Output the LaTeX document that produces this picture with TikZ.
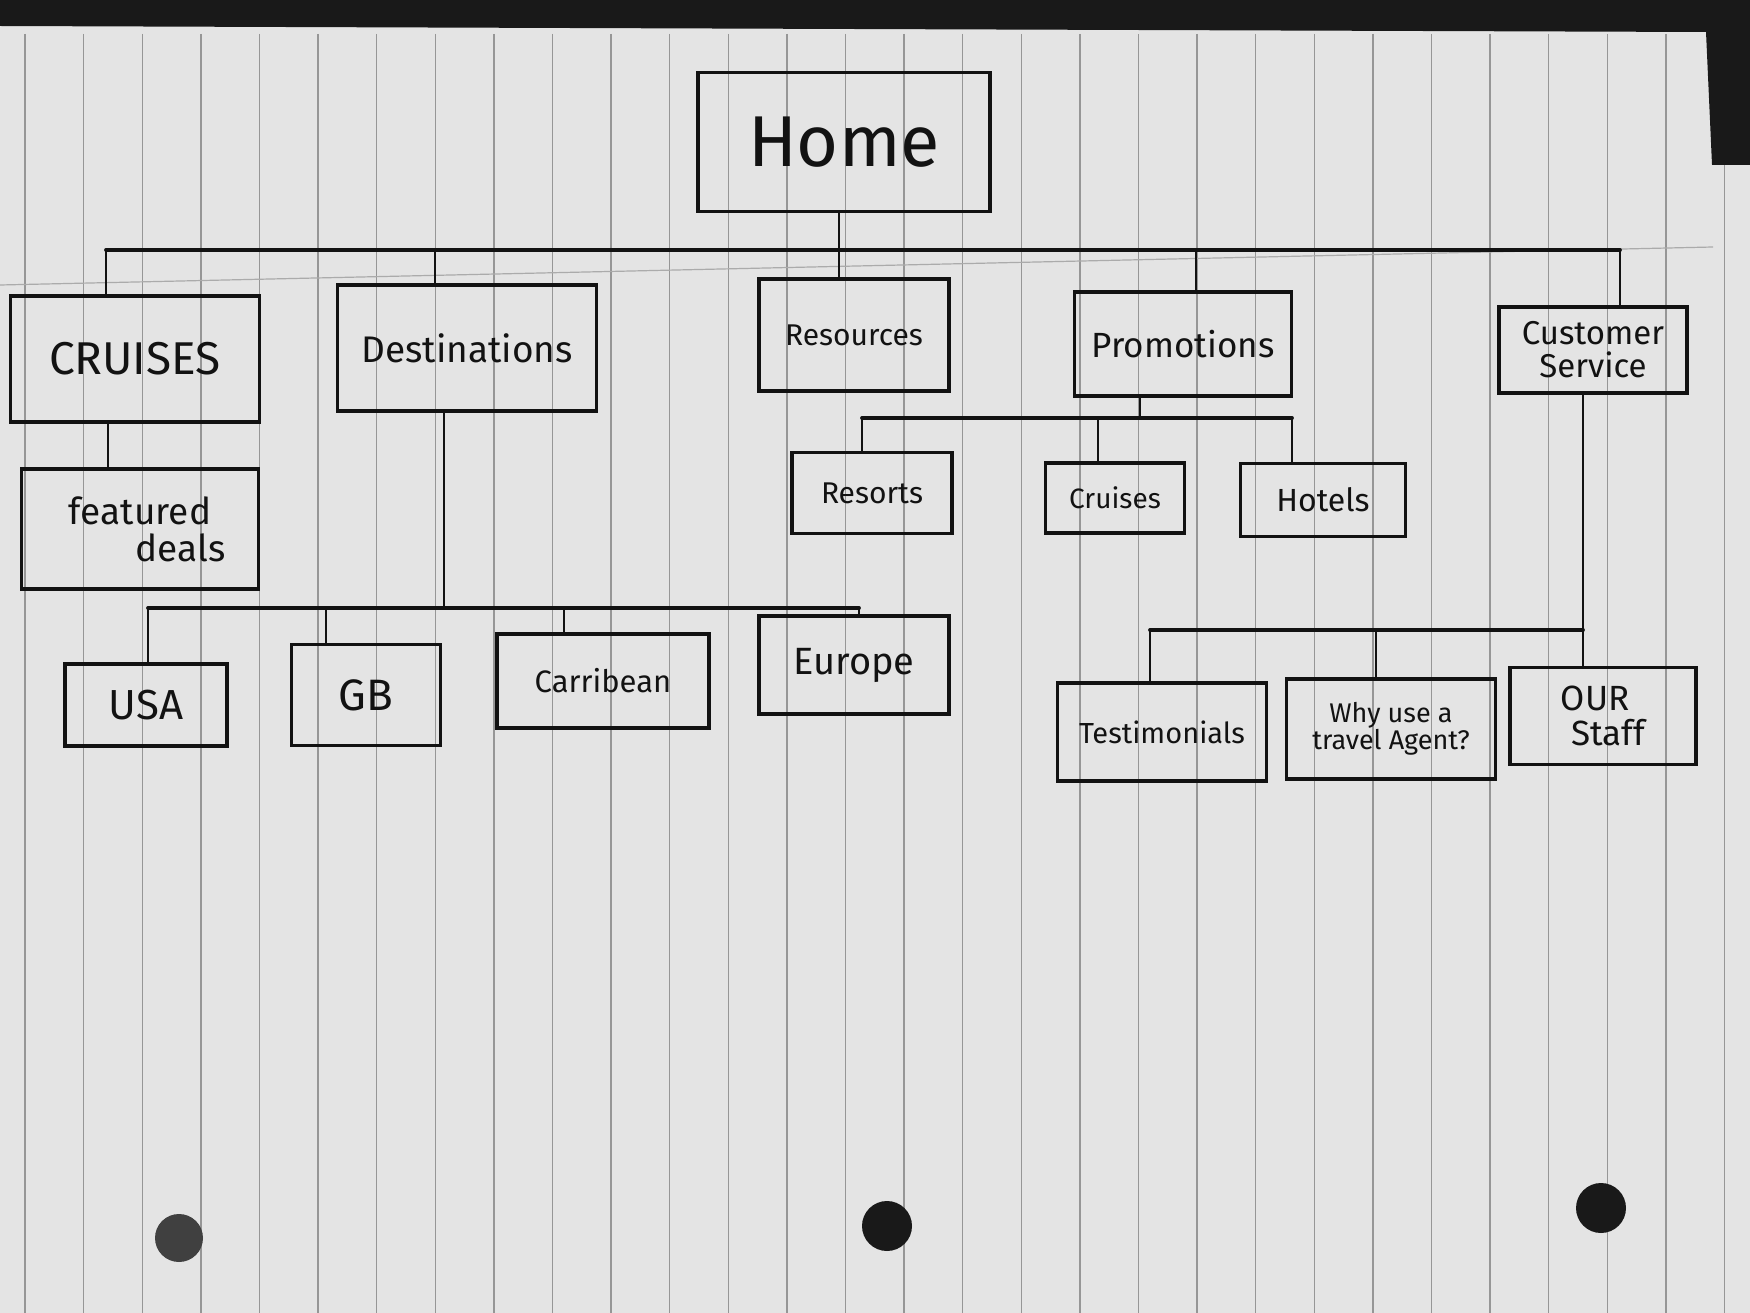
\documentclass[tikz,border=0pt]{standalone}
\usepackage{fontspec}
\setmainfont{Fira Sans}
\definecolor{paper}{RGB}{228,228,228}
\definecolor{rule}{RGB}{150,150,150}
\definecolor{ink}{RGB}{18,18,18}
\newcommand{\fs}[1]{\fontsize{#1}{#1}\selectfont}
\begin{document}
\begin{tikzpicture}[x=1pt,y=-1pt,
  box/.style={draw=ink, line width=3.5pt, inner sep=0pt, align=center, text=ink},
  bus/.style={draw=ink, line width=3.8pt, line cap=round},
  drop/.style={draw=ink, line width=2.6pt, line cap=round},
  ruling/.style={draw=rule, line width=1.4pt},
]
% sheet of lined paper
\useasboundingbox (0,0) rectangle (1750,1313);
\fill[paper] (0,0) rectangle (1750,1313);
\foreach \i in {0,...,29} {
  \draw[ruling] ({25+58.6*\i},34) -- ({25+58.6*\i},1313);
}
\draw[rule!80, line width=1.2pt] (0,285) -- (1713,247);
\fill[black!90] (0,0) -- (1750,0) -- (1750,165) -- (1712,165) -- (1706,32) -- (0,26) -- cycle;
% punched holes
\fill[black!75] (179,1238) circle (24);
\fill[black!90] (887,1226) circle (25);
\fill[black!90] (1601,1208) circle (25);

% page boxes
\node[box, minimum width=292pt, minimum height=139pt, font=\fs{72}] (home) at (844,142) {Home};

\node[box, minimum width=249pt, minimum height=126pt, font=\fs{46}] (cruises) at (135,359) {CRUISES};
\node[box, minimum width=259pt, minimum height=126pt, font=\fs{37}] (dest) at (467,348) {Destinations};
\node[box, minimum width=190pt, minimum height=112pt, font=\fs{30}] (res) at (854,335) {Resources};
\node[box, minimum width=217pt, minimum height=104pt, font=\fs{35}] (promo) at (1183,344) {Promotions};
\node[box, minimum width=188pt, minimum height=86pt, font=\fs{33}] (cs) at (1593,350) {Customer\\Service};

\node[box, minimum width=237pt, minimum height=120pt, font=\fs{37}] (feat) at (140,529) {featured\\\hspace*{2.2em}deals};

\node[box, minimum width=162pt, minimum height=82pt, font=\fs{42}] (usa) at (146,705) {USA};
\node[box, minimum width=149pt, minimum height=101pt, font=\fs{44}] (gb) at (366,695) {GB};
\node[box, minimum width=212pt, minimum height=94pt, font=\fs{31}] (car) at (603,681) {Carribean};
\node[box, minimum width=190pt, minimum height=98pt, font=\fs{38}] (eur) at (854,665) {Europe};

\node[box, minimum width=160pt, minimum height=81pt, font=\fs{30}] (resorts) at (872,493) {Resorts};
\node[box, minimum width=139pt, minimum height=70pt, font=\fs{28}] (pcru) at (1115,498) {Cruises};
\node[box, minimum width=165pt, minimum height=73pt, font=\fs{32}] (hotels) at (1323,500) {Hotels};

\node[box, minimum width=209pt, minimum height=98pt, font=\fs{29}] (test) at (1162,732) {Testimonials};
\node[box, minimum width=209pt, minimum height=100pt, font=\fs{27}] (why) at (1391,729) {Why use a\\travel Agent?};
\node[box, minimum width=186pt, minimum height=97pt, font=\fs{35}, align=left] (staff) at (1603,716) {OUR\\\hspace*{0.3em}Staff};

% first level
\coordinate (b1) at (106,250);
\coordinate (b2) at (435,250);
\coordinate (b3) at (839,250);
\coordinate (b4) at (1196,250);
\coordinate (b5) at (1620,250);
\draw[bus] (b1) -- (b5);
\draw[drop] (cruises.north -| b1) -- (b1);
\draw[drop] (dest.north -| b2) -- (b2);
\draw[drop] (home.south -| b3) -- (res.north -| b3);
\draw[drop] (promo.north -| b4) -- (b4);
\draw[drop] (cs.north -| b5) -- (b5);

% cruises
\coordinate (fx) at (108,0);
\draw[drop] (cruises.south -| fx) -- (feat.north -| fx);

% destinations
\coordinate (d0) at (444,608);
\coordinate (dL) at (148,608);
\coordinate (dG) at (326,608);
\coordinate (dC) at (564,608);
\coordinate (dR) at (859,608);
\draw[drop] (dest.south -| d0) -- (d0);
\draw[bus] (dL) -- (dR);
\draw[drop] (dL) -- (usa.north -| dL);
\draw[drop] (dG) -- (gb.north -| dG);
\draw[drop] (dC) -- (car.north -| dC);
\draw[drop] (dR) -- (eur.north -| dR);

% promotions
\coordinate (p0) at (1140,418);
\coordinate (pL) at (862,418);
\coordinate (pM) at (1098,418);
\coordinate (pR) at (1292,418);
\draw[drop] (promo.south -| p0) -- (p0);
\draw[bus] (pL) -- (pR);
\draw[drop] (pL) -- (resorts.north -| pL);
\draw[drop] (pM) -- (pcru.north -| pM);
\draw[drop] (pR) -- (hotels.north -| pR);

% customer service
\coordinate (s0) at (1583,630);
\coordinate (sL) at (1150,630);
\coordinate (sM) at (1376,630);
\draw[drop] (cs.south -| s0) -- (s0);
\draw[bus] (sL) -- (s0);
\draw[drop] (sL) -- (test.north -| sL);
\draw[drop] (sM) -- (why.north -| sM);
\draw[drop] (s0) -- (staff.north -| s0);
\end{tikzpicture}
\end{document}
